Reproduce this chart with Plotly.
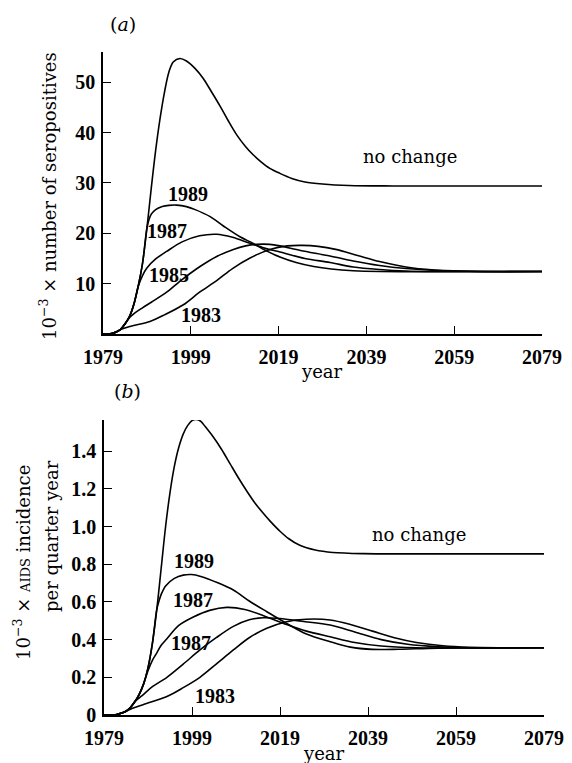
import plotly.graph_objects as go

W, H = 572, 763

# ---- (a) seropositives, thousands ----
a_nc_years = [1979, 1980, 1981, 1982, 1983, 1984, 1985, 1986, 1987, 1988, 1989, 1990, 1991, 1992,
              1993, 1994, 1995, 1996.5, 1998, 2000, 2001.8, 2003.5, 2005.7, 2007.5, 2009.5, 2011.5,
              2013.2, 2015, 2017, 2019.3, 2022, 2025, 2029, 2035, 2045, 2079]
a_nc = [0, 0, 0.1, 0.4, 0.9, 2.0, 3.4, 5.8, 9.4, 14.0, 21.0, 29.0, 36.5, 42.8,
        48.0, 52.0, 54.0, 54.7, 54.2, 52.7, 50.8, 48.4, 45.2, 42.4, 39.5, 37.2,
        35.6, 34.2, 32.9, 31.9, 30.9, 30.2, 29.8, 29.5, 29.4, 29.4]

a_1989_years = [1979, 1980, 1981, 1982, 1983, 1984, 1985, 1986, 1987, 1988, 1989, 1989.5, 1990,
                1991, 1992.5, 1994, 1995.8, 1998, 2000, 2003.4, 2006.5, 2010.2, 2013.2, 2016,
                2019.3, 2023, 2027, 2031, 2036, 2042, 2079]
a_1989 = [0, 0, 0.1, 0.4, 0.9, 2.0, 3.4, 5.8, 9.4, 14.0, 21.0, 22.8, 23.8,
          24.7, 25.3, 25.55, 25.6, 25.3, 24.7, 23.3, 21.4, 19.3, 18.0, 16.6,
          15.3, 14.2, 13.4, 12.9, 12.55, 12.4, 12.4]

a_1987_years = [1979, 1980, 1981, 1982, 1983, 1984, 1985, 1986, 1987, 1988, 1989, 1991, 1993.5,
                1997, 2001, 2004.9, 2008.5, 2012.5, 2016, 2019.3, 2025, 2030.7, 2036, 2042,
                2048, 2055, 2079]
a_1987 = [0, 0, 0.1, 0.4, 0.9, 2.0, 3.4, 5.8, 9.4, 11.6, 13.1, 14.9, 16.4,
          18.3, 19.5, 19.8, 19.2, 18.0, 17.0, 16.3, 15.0, 14.2, 13.3, 12.8,
          12.5, 12.4, 12.4]

a_1985_years = [1979, 1980, 1981, 1982, 1983, 1984, 1985, 1986, 1988, 1990, 1993.5, 1997, 2001.1,
                2004.9, 2008.7, 2011.5, 2014, 2017, 2019.3, 2024, 2030.7, 2036, 2042, 2048,
                2055, 2062, 2079]
a_1985 = [0, 0, 0.1, 0.4, 0.9, 2.0, 3.2, 4.0, 5.2, 6.3, 8.3, 10.8, 13.4,
          15.4, 16.8, 17.5, 17.8, 17.8, 17.5, 16.6, 15.5, 14.5, 13.6, 13.0,
          12.6, 12.45, 12.4]

a_1983_years = [1979, 1980, 1981, 1982, 1983, 1984, 1986, 1989.7, 1993, 1997.3, 2001, 2004.9,
                2008.5, 2012.5, 2017, 2021, 2024.5, 2028, 2032, 2037, 2042, 2049.6, 2057,
                2065, 2079]
a_1983 = [0, 0, 0.1, 0.4, 0.9, 1.2, 1.7, 2.5, 3.8, 5.8, 8.3, 10.6,
          13.0, 15.1, 16.8, 17.5, 17.6, 17.4, 16.8, 15.6, 14.4, 13.1, 12.6,
          12.4, 12.4]

# ---- (b) AIDS incidence per quarter year, thousands ----
b_nc_years = [1979, 1981, 1982, 1983, 1984, 1985, 1986, 1987, 1988, 1989, 1990, 1991, 1992, 1993,
              1994, 1995, 1996, 1997, 1998, 1999, 2000, 2001, 2002, 2003.8, 2005.7, 2007.6, 2009.5,
              2011.4, 2013.3, 2015.2, 2016.7, 2019, 2021, 2023.5, 2027, 2031, 2038, 2050, 2079]
b_nc = [0, 0, 0.003, 0.01, 0.02, 0.04, 0.07, 0.11, 0.165, 0.25, 0.38, 0.56, 0.78, 1.0,
        1.18, 1.32, 1.42, 1.49, 1.535, 1.562, 1.568, 1.558, 1.53, 1.476, 1.41, 1.335, 1.26,
        1.19, 1.125, 1.07, 1.03, 0.975, 0.935, 0.90, 0.875, 0.862, 0.856, 0.855, 0.855]

b_1989_years = [1979, 1981, 1982, 1983, 1984, 1985, 1986, 1987, 1988, 1989, 1990, 1991, 1991.5,
                1992, 1993, 1995, 1997, 1998.9, 2001, 2005, 2008.4, 2012, 2016, 2020.5, 2025,
                2030.4, 2035, 2040, 2046, 2055, 2079]
b_1989 = [0, 0, 0.003, 0.01, 0.02, 0.04, 0.07, 0.11, 0.165, 0.25, 0.38, 0.56, 0.605,
          0.64, 0.685, 0.725, 0.742, 0.745, 0.735, 0.70, 0.663, 0.605, 0.548, 0.486, 0.43,
          0.389, 0.36, 0.348, 0.349, 0.355, 0.357]

b_1987_years = [1979, 1981, 1982, 1983, 1984, 1985, 1986, 1987, 1988, 1989, 1990, 1991, 1992,
                1993.3, 1996, 1999.3, 2003, 2006.9, 2011, 2016, 2020.5, 2025, 2030.4, 2036,
                2042, 2050, 2079]
b_1987 = [0, 0, 0.003, 0.01, 0.02, 0.04, 0.07, 0.11, 0.165, 0.235, 0.29, 0.33, 0.37,
          0.405, 0.475, 0.52, 0.555, 0.571, 0.56, 0.52, 0.48, 0.445, 0.415, 0.385,
          0.366, 0.357, 0.357]

b_1985_years = [1979, 1981, 1982, 1983, 1984, 1985, 1986, 1988, 1990, 1993.3, 1997, 2000.8,
                2004.5, 2008.4, 2012, 2015.2, 2019, 2024, 2030.4, 2036, 2042, 2048, 2055,
                2062, 2079]
b_1985 = [0, 0, 0.003, 0.01, 0.02, 0.04, 0.07, 0.11, 0.15, 0.20, 0.27, 0.345,
          0.41, 0.47, 0.505, 0.516, 0.512, 0.497, 0.477, 0.44, 0.40, 0.375, 0.362,
          0.357, 0.357]

b_1983_years = [1979, 1981, 1982, 1983, 1984, 1985, 1988, 1993.3, 1997, 2000.8, 2004.5, 2008.4,
                2012, 2016, 2020.5, 2025, 2030.4, 2035, 2040, 2045, 2050, 2056, 2062, 2070, 2079]
b_1983 = [0, 0, 0.003, 0.01, 0.02, 0.031, 0.056, 0.098, 0.145, 0.2, 0.27, 0.345,
          0.41, 0.46, 0.495, 0.508, 0.504, 0.48, 0.445, 0.41, 0.385, 0.367, 0.359, 0.357, 0.357]

x_ticks = [1979, 1999, 2019, 2039, 2059, 2079]
a_yticks = [10, 20, 30, 40, 50]
b_yticks = [0, 0.2, 0.4, 0.6, 0.8, 1.0, 1.2, 1.4]
b_yticklabels = ["0", "0.2", "0.4", "0.6", "0.8", "1.0", "1.2", "1.4"]

SERIF = "Liberation Serif"
SERIF2 = "DejaVu Serif"
LINE = dict(color="black", width=1.6, shape="spline", smoothing=0.9)

fig = go.Figure()
for xs, ys in [(a_nc_years, a_nc), (a_1989_years, a_1989), (a_1987_years, a_1987),
               (a_1985_years, a_1985), (a_1983_years, a_1983)]:
    fig.add_trace(go.Scatter(x=xs, y=ys, mode="lines", line=LINE, xaxis="x", yaxis="y",
                             hoverinfo="skip", showlegend=False))
for xs, ys in [(b_nc_years, b_nc), (b_1989_years, b_1989), (b_1987_years, b_1987),
               (b_1985_years, b_1985), (b_1983_years, b_1983)]:
    fig.add_trace(go.Scatter(x=xs, y=ys, mode="lines", line=LINE, xaxis="x2", yaxis="y2",
                             hoverinfo="skip", showlegend=False))


def px(x):
    return x / W


def py(y):
    return 1 - y / H


tickfont = dict(family=SERIF, size=20, color="black", weight="bold")
common_x = dict(range=[1979, 2079], tickvals=x_ticks, ticks="inside", ticklen=8, tickwidth=1.3,
                tickcolor="black", showline=True, linecolor="black", linewidth=1.5,
                showgrid=False, zeroline=False, tickfont=tickfont, ticklabelstandoff=4,
                automargin=False)
common_y = dict(ticks="inside", ticklen=8, tickwidth=1.3, tickcolor="black", showline=True,
                linecolor="black", linewidth=1.5, showgrid=False, zeroline=False,
                tickfont=tickfont, ticklabelstandoff=2, automargin=False)

fig.update_layout(
    template="none",
    font=dict(family=SERIF2, color="black"),
    width=W, height=H, margin=dict(l=0, r=0, t=0, b=0, pad=0, autoexpand=False),
    paper_bgcolor="white", plot_bgcolor="white", showlegend=False,
    xaxis=dict(domain=[px(103), px(542)], anchor="y", **common_x),
    yaxis=dict(domain=[py(334), py(52)], anchor="x", range=[0, 56], tickvals=a_yticks, **common_y),
    xaxis2=dict(domain=[px(104), px(544)], anchor="y2", **common_x),
    yaxis2=dict(domain=[py(715), py(420)], anchor="x2", range=[0, 1.565], tickvals=b_yticks,
                ticktext=b_yticklabels, **common_y),
)


def note(text, x, y, size=20, family=SERIF, angle=0, bold=False):
    fig.add_annotation(text=f"<b>{text}</b>" if bold else text, x=px(x), y=py(y),
                       xref="paper", yref="paper", showarrow=False, textangle=angle,
                       xanchor="center", yanchor="middle",
                       font=dict(family=family, size=size, color="black"))


# panel letters
note("(<i>a</i>)", 123, 24, size=19, family=SERIF2)
note("(<i>b</i>)", 127, 391, size=19, family=SERIF2)

# axis titles
note("10<sup>−3</sup> × number of seropositives", 48, 196, size=18, family=SERIF2, angle=-90)
note("year", 322, 371, size=18, family=SERIF2)
note("10<sup>−3</sup> × <span style='font-size:13px'>AIDS</span> incidence", 22, 563, size=18,
     family=SERIF2, angle=-90)
note("per quarter year", 51, 536, size=18, family=SERIF2, angle=-90)
note("year", 324, 753, size=18, family=SERIF2)

# curve labels, panel (a)
note("no change", 410, 157, size=18, family=SERIF2)
note("1989", 188, 194, bold=True)
note("1987", 167, 231, bold=True)
note("1985", 169, 275, bold=True)
note("1983", 201, 315, bold=True)

# curve labels, panel (b)
note("no change", 419, 534, size=18, family=SERIF2)
note("1989", 194, 561, bold=True)
note("1987", 193, 600, bold=True)
note("1987", 191, 643, bold=True)
note("1983", 215, 696, bold=True)

fig.write_html("out.html")
